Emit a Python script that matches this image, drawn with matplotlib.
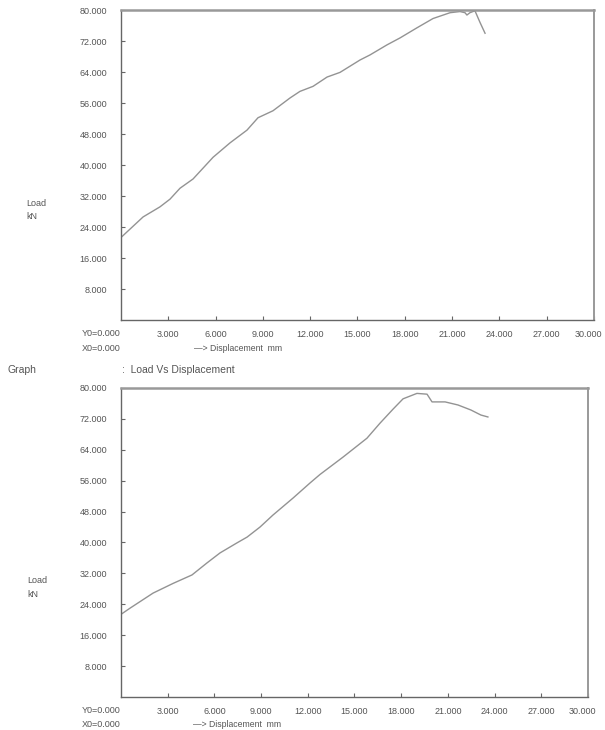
import matplotlib
matplotlib.use("Agg")
import matplotlib.pyplot as plt
import matplotlib.transforms as mtransforms

plt.rcParams['font.family'] = ['Liberation Sans', 'DejaVu Sans']

# first test: displacement (mm) / load (kN)
disp1 = [0.0, 1.40, 2.47, 3.11, 3.74, 4.57, 5.84, 6.91, 7.99, 8.69, 9.64, 10.72,
         11.35, 12.18, 13.07, 13.89, 15.16, 15.79, 16.87, 17.70, 18.77, 19.79,
         20.87, 21.50, 21.82, 21.94, 22.13, 22.45, 22.77, 23.09]
load1 = [21.3, 26.6, 29.2, 31.2, 34.0, 36.4, 42.0, 45.7, 49.0, 52.2, 54.0, 57.3,
         59.0, 60.3, 62.7, 63.9, 67.1, 68.4, 71.0, 72.8, 75.4, 77.8,
         79.3, 79.6, 79.3, 78.7, 79.3, 79.8, 76.8, 74.0]

# second test
disp2 = [0.0, 0.58, 2.06, 3.34, 4.56, 5.52, 6.36, 7.45, 8.10, 8.93, 9.76, 11.05,
         12.14, 12.78, 14.26, 15.80, 16.64, 17.47, 18.12, 19.01, 19.66, 19.98,
         20.82, 21.65, 22.48, 23.12, 23.57]
load2 = [21.4, 23.0, 26.9, 29.4, 31.6, 34.7, 37.3, 39.9, 41.4, 44.0, 47.1, 51.5,
         55.4, 57.6, 62.1, 67.0, 70.9, 74.5, 77.2, 78.6, 78.4, 76.4,
         76.4, 75.6, 74.3, 73.0, 72.5]

xticks = [3, 6, 9, 12, 15, 18, 21, 24, 27, 30]
yticks = [8, 16, 24, 32, 40, 48, 56, 64, 72, 80]
xlabels = ["%.3f" % v for v in xticks]
ylabels = ["%.3f" % v for v in yticks]

txt = "#555555"
fs = 6.5

fig = plt.figure(figsize=(6.05, 7.30), dpi=100)
ax1 = fig.add_axes([0.2, 0.5616, 0.7818, 0.4247])
ax2 = fig.add_axes([0.2, 0.0452, 0.7719, 0.4233])


def style(ax, x, y):
    ax.plot(x, y, color="#939393", lw=1.0)
    ax.set_xlim(0, 30)
    ax.set_ylim(0, 80)
    ax.set_xticks(xticks)
    ax.set_xticklabels(xlabels)
    ax.set_yticks(yticks)
    ax.set_yticklabels(ylabels)
    ax.tick_params(axis="both", direction="in", length=3, width=0.8,
                   colors="#666666", labelcolor=txt, labelsize=fs)
    ax.tick_params(axis="y", pad=10)
    ax.tick_params(axis="x", pad=7)
    # last label sits at the figure edge, nudge it in a little
    last = ax.get_xticklabels()[-1]
    last.set_transform(last.get_transform() +
                       mtransforms.ScaledTranslation(-4 / 72, 0, fig.dpi_scale_trans))
    for s in ["left", "bottom"]:
        ax.spines[s].set_color("#666666")
        ax.spines[s].set_linewidth(1.0)
    ax.spines["top"].set_color("#999999")
    ax.spines["top"].set_linewidth(1.8)
    ax.spines["right"].set_color("#999999")
    ax.spines["right"].set_linewidth(1.4)
    ax.text(0.0, -0.03, "Y0=0.000", transform=ax.transAxes, ha="right", va="top",
            fontsize=fs, color=txt)
    ax.text(0.0, -0.076, "X0=0.000", transform=ax.transAxes, ha="right", va="top",
            fontsize=fs, color=txt)
    ax.text(0.155, -0.076, "\u2014> Displacement  mm", transform=ax.transAxes,
            ha="left", va="top", fontsize=fs - 0.3, color=txt)
    ax.text(-0.2, 0.355, "Load\nkN", transform=ax.transAxes, ha="left", va="center",
            fontsize=fs, color=txt, linespacing=1.7)


style(ax1, disp1, load1)
style(ax2, disp2, load2)

fig.text(8 / 605, 1 - 370 / 730, "Graph", ha="left", va="center", fontsize=fs + 1, color=txt)
fig.text(122 / 605, 1 - 370 / 730, ":  Load Vs Displacement", ha="left", va="center",
         fontsize=fs + 1, color=txt)

fig.savefig("out.png", dpi=100)
